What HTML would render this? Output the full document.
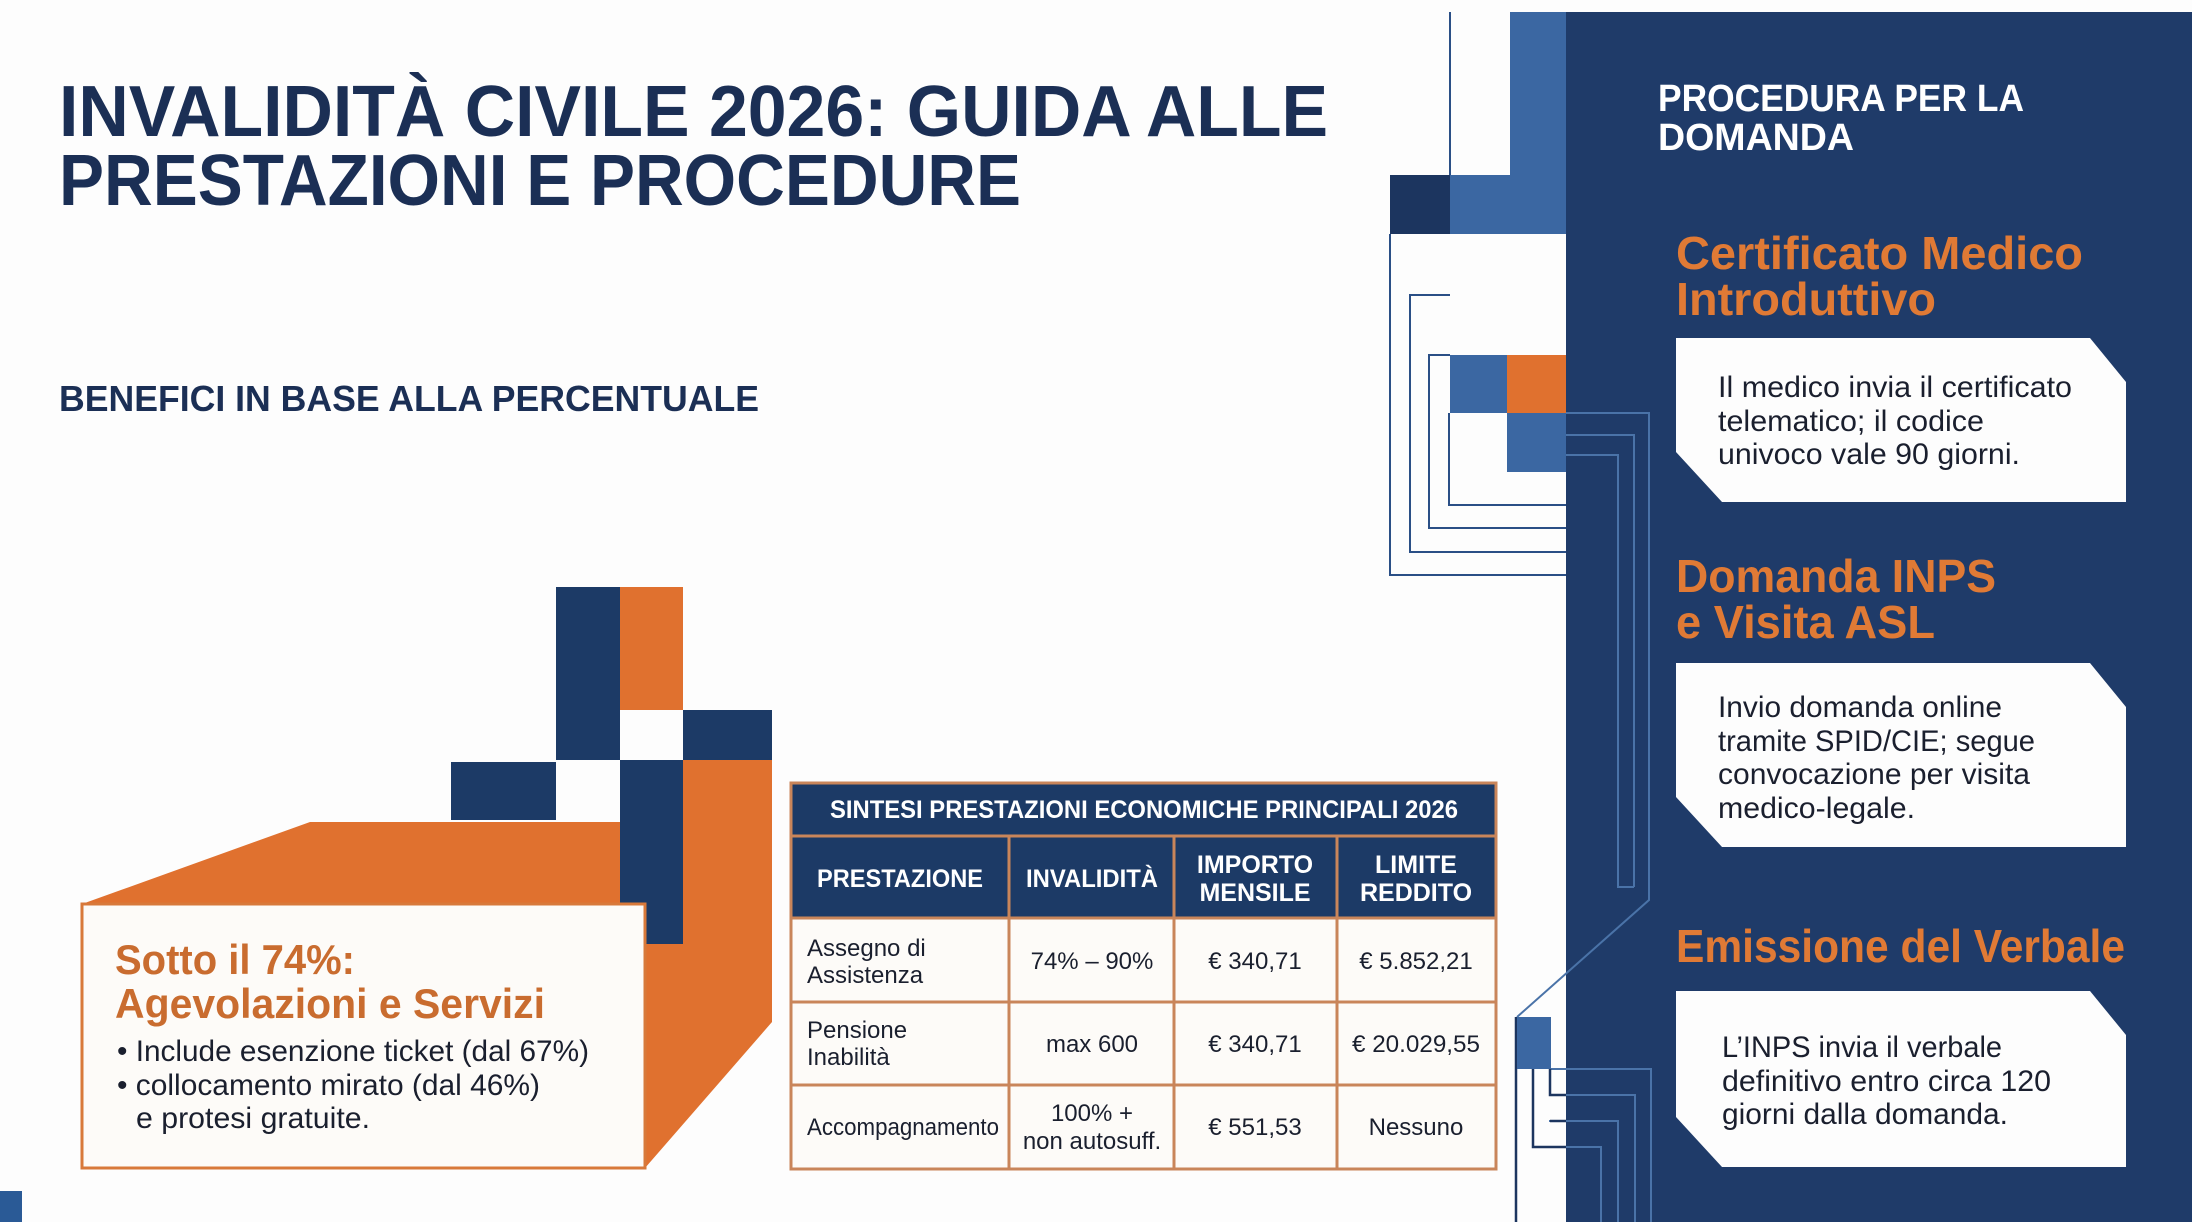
<!DOCTYPE html>
<html><head><meta charset="utf-8"><style>
html,body{margin:0;padding:0;background:#fdfdfd;}
svg{display:block;}
text{font-family:"Liberation Sans",sans-serif;}
</style></head><body>
<svg width="2192" height="1222" viewBox="0 0 2192 1222" xmlns="http://www.w3.org/2000/svg">
<rect width="2192" height="1222" fill="#fdfdfd"/>
<rect x="1566" y="12" width="626" height="1210" fill="#1f3b69"/>
<rect x="1510" y="12" width="56" height="222" fill="#3b67a2"/>
<line x1="1450" y1="12" x2="1450" y2="175" stroke="#2a4f86" stroke-width="2"/>
<rect x="1390" y="175" width="60" height="59" fill="#1c355f"/>
<rect x="1450" y="175" width="60" height="59" fill="#3b67a2"/>
<rect x="1450" y="355" width="57" height="58" fill="#3b67a2"/>
<rect x="1507" y="355" width="59" height="58" fill="#e0712f"/>
<rect x="1507" y="413" width="59" height="59" fill="#3b67a2"/>
<g fill="none" stroke="#2a4f86" stroke-width="2">
<path d="M1390 234 V575 H1566"/>
<path d="M1450 295 H1410 V552 H1566"/>
<path d="M1450 355 H1429 V528 H1566"/>
<path d="M1449 413 V505 H1566"/>
</g>
<g fill="none" stroke="#4a73a8" stroke-width="2">
<path d="M1566 413 H1649 V900 L1517 1017"/>
<path d="M1566 435 H1634 V887"/>
<path d="M1566 455 H1618 V887 H1634"/>
<path d="M1551 1069 H1651 V1222"/>
<path d="M1550 1095 H1635 V1222"/>
<path d="M1549 1121 H1618 V1222"/>
<path d="M1533 1147 H1601 V1222"/>
</g>
<g fill="none" stroke="#1c355f" stroke-width="2.5">
<path d="M1516 1017 V1222"/>
<path d="M1533 1069 V1147 H1566"/>
<path d="M1550 1069 V1095 H1566"/>
<path d="M1550 1121 H1566"/>
</g>
<rect x="1517" y="1017" width="34" height="52" fill="#3b67a2"/>

<text x="1658" y="111" font-size="38" font-weight="bold" fill="#fff" textLength="366" lengthAdjust="spacingAndGlyphs">PROCEDURA PER LA</text>
<text x="1658" y="150" font-size="38" font-weight="bold" fill="#fff" textLength="196" lengthAdjust="spacingAndGlyphs">DOMANDA</text>

<g font-size="46" font-weight="bold" fill="#e07a35">
<text x="1676" y="269" textLength="407" lengthAdjust="spacingAndGlyphs">Certificato Medico</text>
<text x="1676" y="315" textLength="260" lengthAdjust="spacingAndGlyphs">Introduttivo</text>
<text x="1676" y="592" textLength="320" lengthAdjust="spacingAndGlyphs">Domanda INPS</text>
<text x="1676" y="638" textLength="259" lengthAdjust="spacingAndGlyphs">e Visita ASL</text>
<text x="1676" y="962" textLength="449" lengthAdjust="spacingAndGlyphs">Emissione del Verbale</text>
</g>
<g fill="#fdfdfd">
<polygon points="1676,338 2090,338 2126,382 2126,502 1722,502 1676,452"/>
<polygon points="1676,663 2090,663 2126,707 2126,847 1722,847 1676,797"/>
<polygon points="1676,991 2090,991 2126,1035 2126,1167 1722,1167 1676,1117"/>
</g>
<g font-size="30" fill="#1a1f2e">
<text x="1718" y="397" textLength="354" lengthAdjust="spacingAndGlyphs">Il medico invia il certificato</text>
<text x="1718" y="431" textLength="266" lengthAdjust="spacingAndGlyphs">telematico; il codice</text>
<text x="1718" y="464" textLength="302" lengthAdjust="spacingAndGlyphs">univoco vale 90 giorni.</text>
<text x="1718" y="717" textLength="284" lengthAdjust="spacingAndGlyphs">Invio domanda online</text>
<text x="1718" y="751" textLength="317" lengthAdjust="spacingAndGlyphs">tramite SPID/CIE; segue</text>
<text x="1718" y="784" textLength="312" lengthAdjust="spacingAndGlyphs">convocazione per visita</text>
<text x="1718" y="818" textLength="197" lengthAdjust="spacingAndGlyphs">medico-legale.</text>
<text x="1722" y="1057" textLength="280" lengthAdjust="spacingAndGlyphs">L’INPS invia il verbale</text>
<text x="1722" y="1091" textLength="329" lengthAdjust="spacingAndGlyphs">definitivo entro circa 120</text>
<text x="1722" y="1124" textLength="286" lengthAdjust="spacingAndGlyphs">giorni dalla domanda.</text>
</g>

<g font-weight="bold" fill="#1b2f55">
<text x="59" y="136" font-size="72" textLength="1269" lengthAdjust="spacingAndGlyphs">INVALIDITÀ CIVILE 2026: GUIDA ALLE</text>
<text x="59" y="205" font-size="72" textLength="962" lengthAdjust="spacingAndGlyphs">PRESTAZIONI E PROCEDURE</text>
<text x="59" y="411" font-size="36" textLength="700" lengthAdjust="spacingAndGlyphs">BENEFICI IN BASE ALLA PERCENTUALE</text>
</g>

<rect x="556" y="587" width="64" height="173" fill="#1c3a66"/>
<rect x="620" y="587" width="63" height="123" fill="#e0712f"/>
<rect x="683" y="710" width="89" height="50" fill="#1c3a66"/>
<rect x="451" y="762" width="105" height="58" fill="#1c3a66"/>
<polygon points="82,904 310,822 620,822 620,944 683,944 683,760 772,760 772,1022 645,1168 645,904" fill="#e0712f"/>
<rect x="620" y="760" width="63" height="184" fill="#1c3a66"/>
<rect x="82" y="904" width="563" height="264" fill="#fdfbf8" stroke="#d8793a" stroke-width="3"/>
<g font-weight="bold" fill="#c96c2f" font-size="42">
<text x="115" y="974" textLength="240" lengthAdjust="spacingAndGlyphs">Sotto il 74%:</text>
<text x="115" y="1018" textLength="430" lengthAdjust="spacingAndGlyphs">Agevolazioni e Servizi</text>
</g>
<g font-size="30" fill="#1a1f2e">
<text x="117" y="1061" textLength="472" lengthAdjust="spacingAndGlyphs">• Include esenzione ticket (dal 67%)</text>
<text x="117" y="1095" textLength="423" lengthAdjust="spacingAndGlyphs">• collocamento mirato (dal 46%)</text>
<text x="136" y="1128" textLength="234" lengthAdjust="spacingAndGlyphs">e protesi gratuite.</text>
</g>
<rect x="0" y="1191" width="22" height="31" fill="#2a5a96"/>

<rect x="791" y="783" width="705" height="135" fill="#1c3a66"/>
<rect x="791" y="918" width="705" height="251" fill="#fdfbf8"/>
<g stroke="#c9855a" stroke-width="3" fill="none">
<rect x="791" y="783" width="705" height="386"/>
<line x1="791" y1="836" x2="1496" y2="836"/>
<line x1="791" y1="918" x2="1496" y2="918"/>
<line x1="791" y1="1002" x2="1496" y2="1002"/>
<line x1="791" y1="1085" x2="1496" y2="1085"/>
<line x1="1009" y1="836" x2="1009" y2="1169"/>
<line x1="1174" y1="836" x2="1174" y2="1169"/>
<line x1="1337" y1="836" x2="1337" y2="1169"/>
</g>
<g font-weight="bold" fill="#fff" font-size="25" text-anchor="middle">
<text x="1144" y="818" textLength="628" lengthAdjust="spacingAndGlyphs">SINTESI PRESTAZIONI ECONOMICHE PRINCIPALI 2026</text>
<text x="900" y="887" textLength="166" lengthAdjust="spacingAndGlyphs">PRESTAZIONE</text>
<text x="1092" y="887" textLength="132" lengthAdjust="spacingAndGlyphs">INVALIDITÀ</text>
<text x="1255" y="873">IMPORTO</text>
<text x="1255" y="901">MENSILE</text>
<text x="1416" y="873">LIMITE</text>
<text x="1416" y="901">REDDITO</text>
</g>
<g font-size="24" fill="#1a1f2e">
<text x="807" y="956">Assegno di</text>
<text x="807" y="983">Assistenza</text>
<text x="807" y="1038">Pensione</text>
<text x="807" y="1065">Inabilità</text>
<text x="807" y="1135" textLength="192" lengthAdjust="spacingAndGlyphs">Accompagnamento</text>
<g text-anchor="middle">
<text x="1092" y="969">74% – 90%</text>
<text x="1255" y="969">€ 340,71</text>
<text x="1416" y="969">€ 5.852,21</text>
<text x="1092" y="1052">max 600</text>
<text x="1255" y="1052">€ 340,71</text>
<text x="1416" y="1052" textLength="128" lengthAdjust="spacingAndGlyphs">€ 20.029,55</text>
<text x="1092" y="1121">100% +</text>
<text x="1092" y="1149">non autosuff.</text>
<text x="1255" y="1135">€ 551,53</text>
<text x="1416" y="1135">Nessuno</text>
</g>
</g>
</svg>
</body></html>
